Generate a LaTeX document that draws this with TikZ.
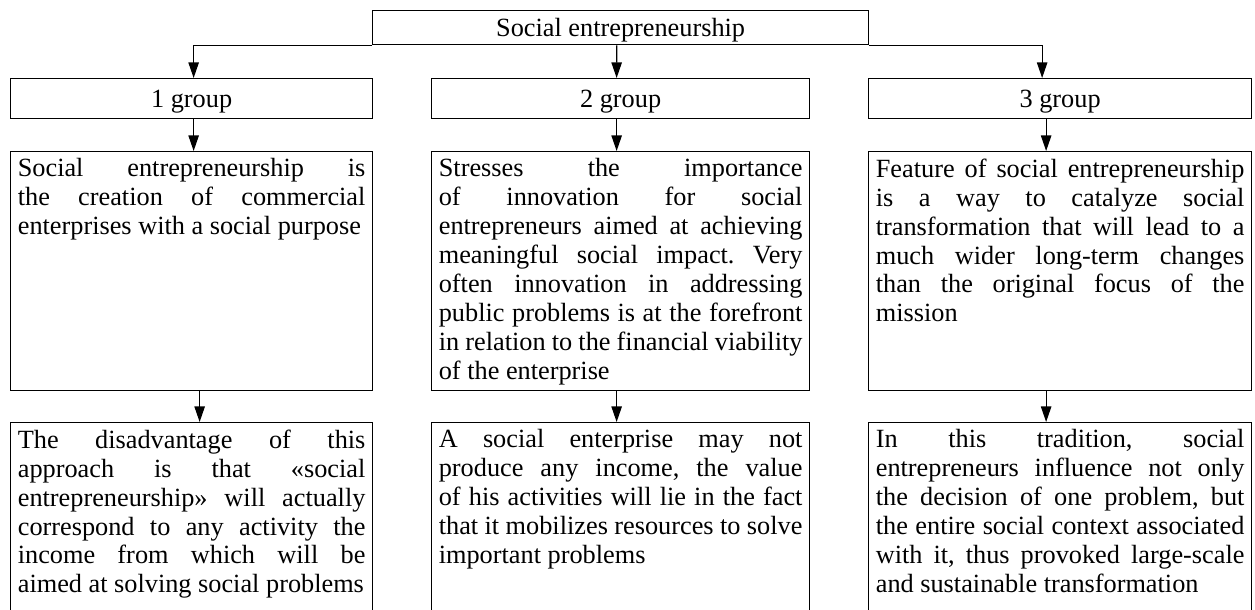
\documentclass[tikz,border=0pt]{standalone}
\usepackage{fontspec}
\setmainfont{Liberation Serif}
\usepackage{tikz}
\usetikzlibrary{positioning}
\usetikzlibrary{arrows.meta}

\begin{document}
\begin{tikzpicture}[
	line width=0.9pt,
	font=\fontsize{18.7}{20.6}\selectfont
]
\tikzset{
    myframe/.style = {rectangle, draw=black, anchor=north west, inner sep=0pt, align=center, text depth=0pt},
    mytext/.style = {anchor=north west, inner xsep=0.18cm, inner ysep=0.175cm, align=justify,
                     execute at begin node={\frenchspacing\tolerance=10000\hyphenpenalty=10000}},
    myarrow/.style = {-{Triangle[length=0.39cm,width=0.26cm]}}
}
\useasboundingbox (0,0) rectangle (31.375,-15.25);
\clip (0,0) rectangle (31.375,-15.25);

% head and the three groups
\node[myframe,minimum width=12.4cm,minimum height=0.85cm] (head) at (9.3,-0.25) {Social entrepreneurship};
\node[myframe,minimum width=9.05cm,minimum height=1.0cm] (g1) at (0.25,-1.95) {1 group};
\node[myframe,minimum width=9.45cm,minimum height=1.0cm] (g2) at (10.775,-1.95) {2 group};
\node[myframe,minimum width=9.575cm,minimum height=1.0cm] (g3) at (21.7,-1.95) {3 group};

% definitions
\node[myframe,minimum width=9.05cm,minimum height=5.975cm] (d1) at (0.25,-3.775) {};
\node[myframe,minimum width=9.45cm,minimum height=5.975cm] (d2) at (10.775,-3.775) {};
\node[myframe,minimum width=9.575cm,minimum height=5.975cm] (d3) at (21.7,-3.775) {};
\node[mytext,text width=8.69cm] (d1txt) at (d1.north west) {Social entrepreneurship is\linebreak
  the creation of commercial\linebreak
  enterprises with a social purpose};
\node[mytext,text width=9.09cm] (d2txt) at (d2.north west) {Stresses the importance\linebreak
  of innovation for social\linebreak
  entrepreneurs aimed at achieving\linebreak
  meaningful social impact. Very\linebreak
  often innovation in addressing\linebreak
  public problems is at the forefront\linebreak
  in relation to the financial viability\linebreak
  of the enterprise};
\node[mytext,text width=9.215cm] (d3txt) at (d3.north west) {Feature of social entrepreneurship\linebreak
  is a way to catalyze social\linebreak
  transformation that will lead to a\linebreak
  much wider long-term changes\linebreak
  than the original focus of the\linebreak
  mission};

% consequences (open at the bottom)
\node[myframe,minimum width=9.05cm,minimum height=5.5cm] (c1) at (0.25,-10.55) {};
\node[myframe,minimum width=9.45cm,minimum height=5.5cm] (c2) at (10.775,-10.55) {};
\node[myframe,minimum width=9.575cm,minimum height=5.5cm] (c3) at (21.7,-10.55) {};
\node[mytext,text width=8.69cm] (c1txt) at (c1.north west) {The disadvantage of this\linebreak
  approach is that «social\linebreak
  entrepreneurship» will actually\linebreak
  correspond to any activity the\linebreak
  income from which will be\linebreak
  aimed at solving social problems};
\node[mytext,text width=9.09cm] (c2txt) at (c2.north west) {A social enterprise may not\linebreak
  produce any income, the value\linebreak
  of his activities will lie in the fact\linebreak
  that it mobilizes resources to solve\linebreak
  important problems};
\node[mytext,text width=9.215cm] (c3txt) at (c3.north west) {In this tradition, social\linebreak
  entrepreneurs influence not only\linebreak
  the decision of one problem, but\linebreak
  the entire social context associated\linebreak
  with it, thus provoked large-scale\linebreak
  and sustainable transformation};

% arrows
\draw[myarrow] (head.south west) -| ([xshift=0.05cm]g1.north);
\draw[myarrow] (head.south east) -| ([xshift=-0.45cm]g3.north);
\draw[myarrow] ([xshift=-0.1cm]head.south) -- ([xshift=-0.1cm]g2.north);
\draw[myarrow] ([xshift=0.05cm]g1.south) -- ([xshift=0.05cm]d1.north);
\draw[myarrow] ([xshift=-0.1cm]g2.south) -- ([xshift=-0.1cm]d2.north);
\draw[myarrow] ([xshift=-0.35cm]g3.south) -- ([xshift=-0.35cm]d3.north);
\draw[myarrow] ([xshift=0.2cm]d1.south) -- ([xshift=0.2cm]c1.north);
\draw[myarrow] ([xshift=-0.1cm]d2.south) -- ([xshift=-0.1cm]c2.north);
\draw[myarrow] ([xshift=-0.35cm]d3.south) -- ([xshift=-0.35cm]c3.north);
\end{tikzpicture}
\end{document}
